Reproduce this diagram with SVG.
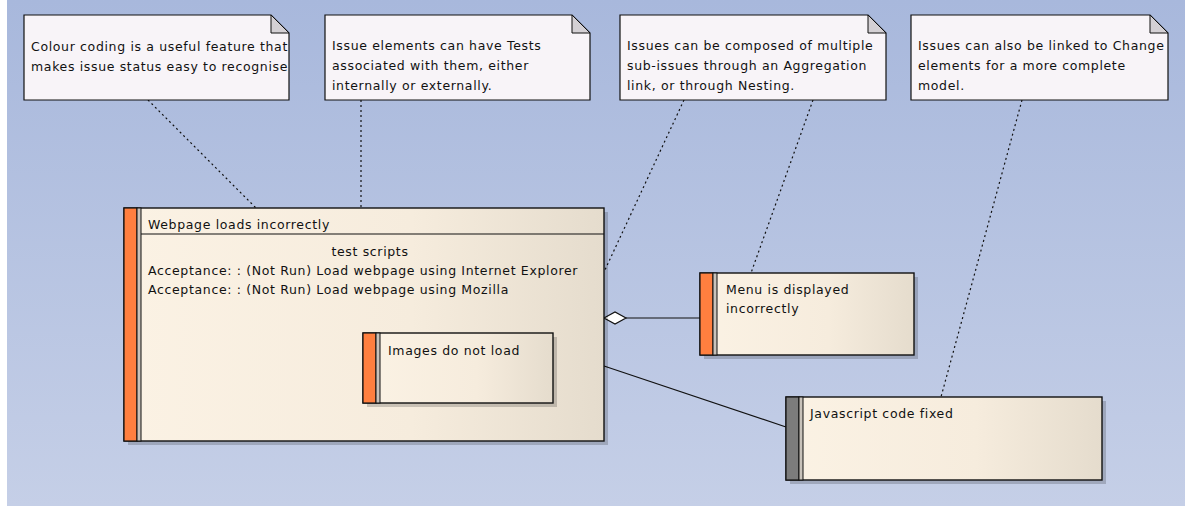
<svg xmlns="http://www.w3.org/2000/svg" width="1185" height="508" viewBox="0 0 1185 508">
<defs>
<linearGradient id="bg" x1="0" y1="0" x2="0" y2="1">
<stop offset="0" stop-color="#A8B8DC"/>
<stop offset="1" stop-color="#C5CFE7"/>
</linearGradient>
<linearGradient id="body" x1="0" y1="0" x2="1" y2="0">
<stop offset="0" stop-color="#FBF2E4"/>
<stop offset="0.6" stop-color="#F6ECDD"/>
<stop offset="1" stop-color="#E5DCCD"/>
</linearGradient>
<style>
text{font-family:"DejaVu Sans","Liberation Sans",sans-serif;font-size:12.5px;letter-spacing:0.65px;fill:#111}
.note{fill:#F8F4F8;stroke:#111;stroke-width:1.2}
.fold{fill:#D4D0D4;stroke:#111;stroke-width:1}
.shadow{fill:#000;opacity:0.18}
.box{fill:url(#body);stroke:#111;stroke-width:1.4}
.bar{stroke:#111;stroke-width:1.2}
.orange{fill:#FF7F3F}
.grey{fill:#7C7C7C}
.dot{stroke:#111;stroke-width:1.2;stroke-dasharray:2 3;fill:none}
.solid{stroke:#111;stroke-width:1.2;fill:none}
</style>
</defs>
<rect x="7" y="0" width="1178" height="506" fill="url(#bg)"/>

<g id="connectors">
<line class="dot" x1="148" y1="100" x2="256" y2="208"/>
<line class="dot" x1="361" y1="100" x2="361" y2="208"/>
<line class="dot" x1="684" y1="100" x2="604" y2="272"/>
<line class="dot" x1="813" y1="100" x2="751" y2="273"/>
<line class="dot" x1="1022" y1="100" x2="941" y2="397"/>
<line class="solid" x1="626" y1="318" x2="700" y2="318"/>
<polygon points="604,318 615,312 626,318 615,324" fill="#fff" stroke="#111" stroke-width="1.2"/>
<line class="solid" x1="604" y1="366" x2="786" y2="427"/>
</g>

<g id="note1">
<path class="note" d="M24,15 H271 L289,33 V100 H24 Z"/>
<path class="fold" d="M271,15 V33 H289 Z"/>
<text x="31" y="51">Colour coding is a useful feature that</text>
<text x="31" y="71">makes issue status easy to recognise</text>
</g>

<g id="note2">
<path class="note" d="M325,15 H572 L590,33 V100 H325 Z"/>
<path class="fold" d="M572,15 V33 H590 Z"/>
<text x="332" y="50">Issue elements can have Tests</text>
<text x="332" y="70">associated with them, either</text>
<text x="332" y="90">internally or externally.</text>
</g>

<g id="note3">
<path class="note" d="M620,15 H868 L886,33 V100 H620 Z"/>
<path class="fold" d="M868,15 V33 H886 Z"/>
<text x="627" y="50">Issues can be composed of multiple</text>
<text x="627" y="70">sub-issues through an Aggregation</text>
<text x="627" y="90">link, or through Nesting.</text>
</g>

<g id="note4">
<path class="note" d="M911,15 H1150 L1168,33 V100 H911 Z"/>
<path class="fold" d="M1150,15 V33 H1168 Z"/>
<text x="918" y="50">Issues can also be linked to Change</text>
<text x="918" y="70">elements for a more complete</text>
<text x="918" y="90">model.</text>
</g>

<g id="issue-main">
<rect class="shadow" x="128" y="212" width="480" height="233"/>
<rect class="box" x="124" y="208" width="480" height="233"/>
<rect class="orange bar" x="124" y="208" width="13" height="233"/>
<rect x="137" y="208" width="4" height="233" fill="#C8C2BA" stroke="#111" stroke-width="1"/>
<line class="solid" x1="141" y1="234" x2="604" y2="234"/>
<text x="148" y="229">Webpage loads incorrectly</text>
<text x="370" y="256" text-anchor="middle">test scripts</text>
<text x="148" y="275">Acceptance: : (Not Run) Load webpage using Internet Explorer</text>
<text x="148" y="294">Acceptance: : (Not Run) Load webpage using Mozilla</text>
</g>

<g id="issue-images">
<rect class="shadow" x="367" y="337" width="190" height="70"/>
<rect class="box" x="363" y="333" width="190" height="70"/>
<rect class="orange bar" x="363" y="333" width="13" height="70"/>
<rect x="376" y="333" width="4" height="70" fill="#C8C2BA" stroke="#111" stroke-width="1"/>
<text x="388" y="355">Images do not load</text>
</g>

<g id="issue-menu">
<rect class="shadow" x="704" y="277" width="214" height="82"/>
<rect class="box" x="700" y="273" width="214" height="82"/>
<rect class="orange bar" x="700" y="273" width="13" height="82"/>
<rect x="713" y="273" width="4" height="82" fill="#C8C2BA" stroke="#111" stroke-width="1"/>
<text x="726" y="294">Menu is displayed</text>
<text x="726" y="313">incorrectly</text>
</g>

<g id="change-js">
<rect class="shadow" x="790" y="401" width="316" height="83"/>
<rect class="box" x="786" y="397" width="316" height="83"/>
<rect class="grey bar" x="786" y="397" width="13" height="83"/>
<rect x="799" y="397" width="4" height="83" fill="#C8C2BA" stroke="#111" stroke-width="1"/>
<text x="810" y="418">Javascript code fixed</text>
</g>
</svg>
